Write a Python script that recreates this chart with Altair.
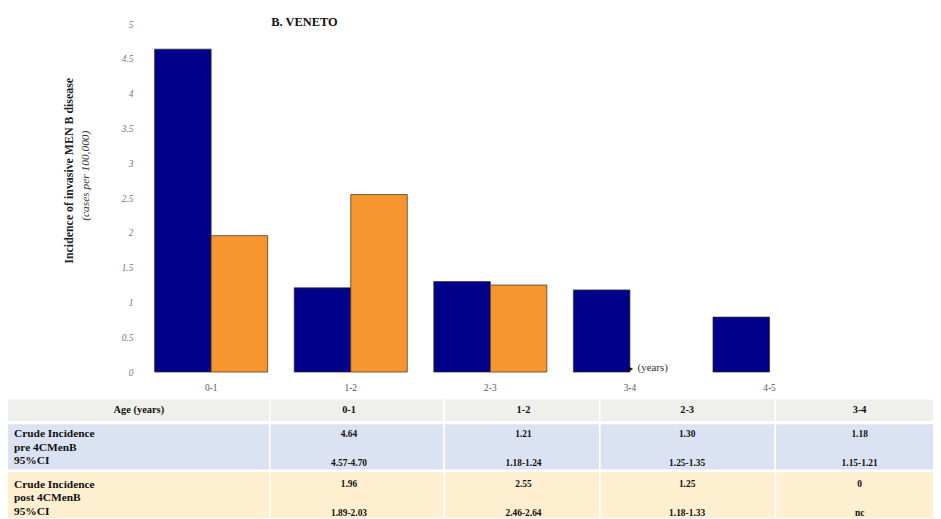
import altair as alt
import pandas as pd

# ---------------- data ----------------
ages = ["0-1", "1-2", "2-3", "3-4", "4-5"]
pre_values = [4.64, 1.21, 1.30, 1.18, 0.79]
post_ages = ["0-1", "1-2", "2-3", "3-4"]
post_values = [1.96, 2.55, 1.25, 0.0]
series = ["pre 4CMenB", "post 4CMenB"]
series_colors = ["#00008b", "#f7962f"]
y_ticks = [0, 0.5, 1, 1.5, 2, 2.5, 3, 3.5, 4, 4.5, 5]

chart_title = "B. VENETO"
y_title_1 = "Incidence  of invasive MEN B disease"
y_title_2 = "(cases per 100,000)"
x_unit = "(years)"

table_header = ["Age (years)", "0-1", "1-2", "2-3", "3-4"]
pre_label = ["Crude  Incidence", "pre 4CMenB", "95%CI"]
pre_crude = ["4.64", "1.21", "1.30", "1.18"]
pre_ci = ["4.57-4.70", "1.18-1.24", "1.25-1.35", "1.15-1.21"]
post_label = ["Crude  Incidence", "post 4CMenB", "95%CI"]
post_crude = ["1.96", "2.55", "1.25", "0"]
post_ci = ["1.89-2.03", "2.46-2.64", "1.18-1.33", "nc"]
row_fills = ["#efefec", "#dbe3f2", "#fdefcf"]

# ---------------- layout (pixels, page coords minus 8px margin) ----------------
M = 8
W, H = 933, 511
FONT = "Liberation Serif"
col_edges = [5, 272, 448, 605, 782, 945]
col_text_x = [140, 352, 528, 693, 867]
row_edges = [(400, 423), (425, 472), (473, 521)]

# ---------------- bars ----------------
bars_df = pd.DataFrame({
    "age": ages + post_ages,
    "value": pre_values + post_values,
    "series": [series[0]] * len(ages) + [series[1]] * len(post_ages),
})

bars = alt.Chart(bars_df).transform_filter("datum.value > 0").mark_bar(
    stroke="#3b2a14", strokeWidth=0.7
).encode(
    x=alt.X("age:N", sort=ages,
            scale=alt.Scale(domain=ages, range=[142.5 - M, 846.5 - M],
                            paddingInner=0.19, paddingOuter=0.095),
            axis=alt.Axis(title=None, labelAngle=0, offset=-(H - (373 - M)),
                          domain=False, ticks=False, labelFont=FONT,
                          labelFontSize=9.5, labelColor="#555555", labelPadding=11)),
    xOffset=alt.XOffset("series:N", sort=series, scale=alt.Scale(domain=series)),
    y=alt.Y("value:Q",
            scale=alt.Scale(domain=[0, 5], range=[373 - M, 22 - M], nice=False),
            axis=alt.Axis(title=None, values=y_ticks, format=".1~f",
                          offset=-(140 - M), domain=False, ticks=False, grid=False,
                          labelFont=FONT, labelFontSize=9.5, labelColor="#777777",
                          labelFontStyle="italic", labelPadding=6)),
    color=alt.Color("series:N", scale=alt.Scale(domain=series, range=series_colors),
                    legend=None),
)

# ---------------- annotations ----------------
one = pd.DataFrame({"k": [0]})
title_mark = alt.Chart(one).mark_text(
    text=chart_title, font=FONT, fontWeight="bold", fontSize=12.5, align="center",
    baseline="middle", color="#111111"
).encode(x=alt.value(307 - M), y=alt.value(20 - M))

ytitle1 = alt.Chart(one).mark_text(
    text=y_title_1, font=FONT, fontWeight="bold", fontSize=12, angle=270,
    align="center", baseline="middle", color="#222222"
).encode(x=alt.value(70 - M), y=alt.value(170 - M))

ytitle2 = alt.Chart(one).mark_text(
    text=y_title_2, font=FONT, fontStyle="italic", fontSize=11.5, angle=270,
    align="center", baseline="middle", color="#333333"
).encode(x=alt.value(87 - M), y=alt.value(175 - M))

arrow = alt.Chart(one).mark_point(
    shape="triangle-right", filled=True, size=35, color="#111111", opacity=1
).encode(x=alt.value(636 - M), y=alt.value(370 - M))

years = alt.Chart(one).mark_text(
    text=x_unit, font=FONT, fontSize=11, align="left", baseline="middle",
    color="#333333"
).encode(x=alt.value(643 - M), y=alt.value(369 - M))

# ---------------- table ----------------
rect_rows = []
for r, (y0, y1) in enumerate(row_edges):
    for c in range(len(col_edges) - 1):
        rect_rows.append({"x0": col_edges[c] - M, "x1": col_edges[c + 1] - M,
                          "y0": y0 - M, "y1": y1 - M, "fill": row_fills[r]})
rect_df = pd.DataFrame(rect_rows)

table_rects = alt.Chart(rect_df).mark_rect(stroke="white", strokeWidth=1.5).encode(
    x=alt.X("x0:Q", scale=None), x2="x1:Q",
    y=alt.Y("y0:Q", scale=None), y2="y1:Q",
    fill=alt.Fill("fill:N", scale=None),
)

head_rows = [{"x": col_text_x[c] - M, "y": 411 - M, "t": t}
             for c, t in enumerate(table_header)]
head_df = pd.DataFrame(head_rows)

val_rows = []
for i in range(len(pre_crude)):
    val_rows.append({"x": col_text_x[i + 1] - M, "y": 436 - M, "t": pre_crude[i]})
    val_rows.append({"x": col_text_x[i + 1] - M, "y": 465 - M, "t": pre_ci[i]})
    val_rows.append({"x": col_text_x[i + 1] - M, "y": 486 - M, "t": post_crude[i]})
    val_rows.append({"x": col_text_x[i + 1] - M, "y": 515 - M, "t": post_ci[i]})
val_df = pd.DataFrame(val_rows)

left_rows = []
for j, t in enumerate(pre_label):
    left_rows.append({"x": 14 - M, "y": 436 + 13.5 * j - M, "t": t})
for j, t in enumerate(post_label):
    left_rows.append({"x": 14 - M, "y": 487 + 13.5 * j - M, "t": t})
left_df = pd.DataFrame(left_rows)

table_head = alt.Chart(head_df).mark_text(
    font=FONT, fontWeight="bold", fontSize=10.5, align="center", baseline="middle",
    color="#111111"
).encode(x=alt.X("x:Q", scale=None), y=alt.Y("y:Q", scale=None), text="t:N")

table_vals = alt.Chart(val_df).mark_text(
    font=FONT, fontWeight="bold", fontSize=9.5, align="center", baseline="middle",
    color="#111111"
).encode(x=alt.X("x:Q", scale=None), y=alt.Y("y:Q", scale=None), text="t:N")

table_left = alt.Chart(left_df).mark_text(
    font=FONT, fontWeight="bold", fontSize=11.5, align="left", baseline="middle",
    color="#111111"
).encode(x=alt.X("x:Q", scale=None), y=alt.Y("y:Q", scale=None), text="t:N")

chart = alt.layer(
    table_rects, table_head, table_vals, table_left, bars, title_mark, ytitle1,
    ytitle2, arrow, years
).resolve_scale(x="independent", y="independent").properties(
    width=W, height=H, autosize="none", padding=0
).configure_view(stroke=None)

chart.save("out.html", embed_options={"renderer": "svg", "actions": False})
